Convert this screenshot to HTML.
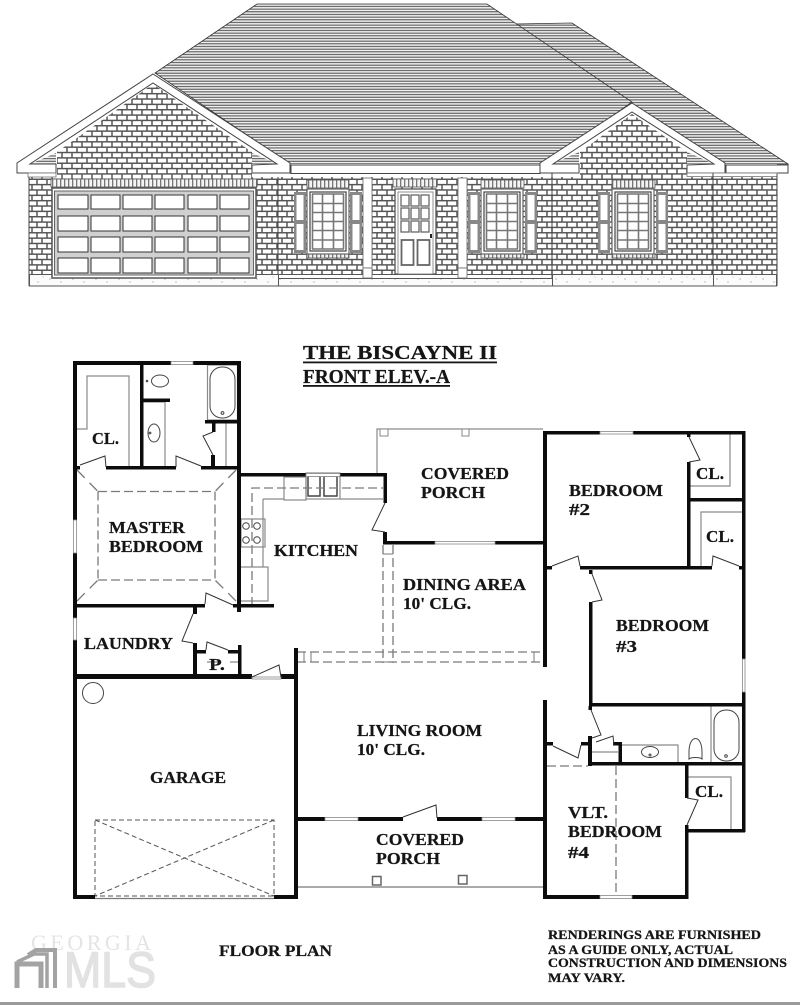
<!DOCTYPE html>
<html><head><meta charset="utf-8"><title>The Biscayne II</title>
<style>html,body{margin:0;padding:0;background:#fff;width:800px;height:1005px;overflow:hidden}svg{display:block}
text{font-family:"Liberation Serif",serif;font-weight:bold;fill:#151515;stroke:#151515;stroke-width:.25}</style></head>
<body>
<svg width="800" height="1005" viewBox="0 0 800 1005" xmlns="http://www.w3.org/2000/svg">
<defs>
<pattern id="roof" width="8" height="2.67" patternUnits="userSpaceOnUse" y="0"><rect width="8" height="2.67" fill="#f0f0f0"/><rect width="8" height="1" y="0.6" fill="#4a4a4a"/></pattern>
<pattern id="brick" width="10" height="10.7" patternUnits="userSpaceOnUse" x="0" y="2"><rect width="10" height="10.7" fill="#fff"/><path d="M0 .7H10M0 6.05H10M2 .7V6.05M7 6.05V11.4" stroke="#555" stroke-width="1.5" fill="none"/></pattern>
<pattern id="soldier" width="4" height="8" patternUnits="userSpaceOnUse"><rect width="4" height="8" fill="#f4f4f4"/><rect width="1.3" height="8" fill="#777"/></pattern>
<pattern id="conc" width="23" height="11" patternUnits="userSpaceOnUse"><rect width="23" height="11" fill="#fbfbfb"/><circle cx="4" cy="4" r=".6" fill="#888"/><circle cx="15" cy="7" r=".6" fill="#999"/><circle cx="20" cy="2" r=".5" fill="#aaa"/></pattern>
<g id="sash"><rect x="0" y="0" width="42" height="65" fill="#fff" stroke="#666" stroke-width="1.2"/><rect x="3" y="3" width="36" height="59" fill="#fff" stroke="#444" stroke-width="1.2"/>
<path d="M5.5 5V60M36.5 5V60M5 5H37M5 60H37M15.5 5V60M26.5 5V60M5 14.500H37M5 23.500H37M5 32.500H37M5 41.500H37M5 51H37" stroke="#777" stroke-width="1.6" fill="none"/></g>
<g id="shut"><rect width="12" height="61" fill="#888"/><rect x="2.500" y="3" width="7" height="25" fill="#fff"/><rect x="2.500" y="32" width="7" height="26" fill="#fff"/></g>
</defs>

<!-- ELEVATION -->
<polygon points="515,24 572,23 788,164 640,164" fill="url(#roof)" stroke="#333" stroke-width=".8"/>
<polygon points="257,4 487,4 632,102 545,164 290,164 155,73" fill="url(#roof)" stroke="#333" stroke-width=".8"/>
<polygon points="29,164 120,164 153,84 190,164 540,164 632,112 715,164 777,164 777,286 29,286" fill="#fff"/>
<rect x="29" y="177" width="748" height="98" fill="url(#brick)"/>
<polygon points="153,84 57,152 57,178 252,178 252,152" fill="url(#brick)"/>
<polygon points="632,114 580,152 580,178 687,178 687,152" fill="url(#brick)"/>
<polygon points="56,153 30,164 56,164" fill="url(#roof)"/><polygon points="252,153 278,164 252,164" fill="url(#roof)"/>
<polygon points="579,152 552,164 579,164" fill="url(#roof)"/><polygon points="687,152 714,164 687,164" fill="url(#roof)"/>
<!-- bands -->
<polygon points="153,74 290,163 290,173 252,173 252,165 277,164 153,83 30,164 56,164 56,173 17,173 17,163" fill="#fff" stroke="#444" stroke-width="1"/>
<rect x="291" y="165" width="249" height="8.500" fill="#fff" stroke="#444" stroke-width="1"/>
<polygon points="632,103 725,163 725,173 687,173 687,165 714,164 632,112 553,164 579,164 579,173 540,173 540,163" fill="#fff" stroke="#444" stroke-width="1"/>
<rect x="726" y="165" width="62" height="8" fill="#fff" stroke="#444" stroke-width="1"/>
<rect x="28" y="173" width="28" height="4" fill="#fff" stroke="#777" stroke-width=".8"/>
<rect x="687" y="173" width="90" height="3.500" fill="#fff" stroke="#777" stroke-width=".8"/>
<path d="M29 177V286M278 177V286M552 173V286M713 173V286M777 174V286" stroke="#444" stroke-width="1" fill="none"/>
<!-- foundation -->
<rect x="29.500" y="274.500" width="249" height="11.500" fill="url(#conc)" stroke="#555"/>
<rect x="278.500" y="278.500" width="274" height="7.500" fill="url(#conc)" stroke="#555"/>
<rect x="552.500" y="274.500" width="161" height="11.500" fill="url(#conc)" stroke="#555"/>
<rect x="713.500" y="274.500" width="63" height="11.500" fill="url(#conc)" stroke="#555"/>
<path d="M278 274.500H552" stroke="#555"/>
<!-- garage door -->
<rect x="51" y="179" width="206" height="8" fill="url(#soldier)" stroke="#555" stroke-width=".8"/>
<rect x="52" y="188" width="204" height="90" fill="#fff" stroke="#555" stroke-width="1.500"/>
<rect x="54.500" y="191" width="199" height="84" fill="#d0d0d0" stroke="#666"/>
<g fill="#fff" stroke="#333" stroke-width="1">
<rect x="58" y="195" width="30" height="14"/><rect x="91" y="195" width="29" height="14"/><rect x="123" y="195" width="29" height="14"/><rect x="155" y="195" width="29" height="14"/><rect x="188" y="195" width="29" height="14"/><rect x="220" y="195" width="29" height="14"/>
<rect x="58" y="216" width="30" height="15"/><rect x="91" y="216" width="29" height="15"/><rect x="123" y="216" width="29" height="15"/><rect x="155" y="216" width="29" height="15"/><rect x="188" y="216" width="29" height="15"/><rect x="220" y="216" width="29" height="15"/>
<rect x="58" y="237" width="30" height="15"/><rect x="91" y="237" width="29" height="15"/><rect x="123" y="237" width="29" height="15"/><rect x="155" y="237" width="29" height="15"/><rect x="188" y="237" width="29" height="15"/><rect x="220" y="237" width="29" height="15"/>
<rect x="58" y="258" width="30" height="15"/><rect x="91" y="258" width="29" height="15"/><rect x="123" y="258" width="29" height="15"/><rect x="155" y="258" width="29" height="15"/><rect x="188" y="258" width="29" height="15"/><rect x="220" y="258" width="29" height="15"/>
</g>
<!-- columns -->
<rect x="363" y="178" width="9" height="90" fill="#fff" stroke="#666" stroke-width=".8"/><rect x="363" y="268" width="9" height="10" fill="#fff" stroke="#666" stroke-width=".8"/>
<rect x="458" y="178" width="9" height="90" fill="#fff" stroke="#666" stroke-width=".8"/><rect x="458" y="268" width="9" height="10" fill="#fff" stroke="#666" stroke-width=".8"/>
<!-- windows -->
<rect x="307" y="180" width="42" height="8" fill="url(#soldier)" stroke="#555" stroke-width=".8"/>
<rect x="307" y="254" width="42" height="4" fill="url(#soldier)" stroke="#555" stroke-width=".8"/>
<use href="#shut" x="294" y="192"/><use href="#sash" x="307" y="189"/><use href="#shut" x="350" y="192"/>
<rect x="481" y="180" width="43" height="8" fill="url(#soldier)" stroke="#555" stroke-width=".8"/>
<rect x="481" y="254" width="43" height="4" fill="url(#soldier)" stroke="#555" stroke-width=".8"/>
<use href="#shut" x="468" y="192"/><use href="#sash" x="481" y="189"/><use href="#shut" x="525" y="192"/>
<rect x="612" y="180" width="43" height="8" fill="url(#soldier)" stroke="#555" stroke-width=".8"/>
<rect x="612" y="254" width="43" height="4" fill="url(#soldier)" stroke="#555" stroke-width=".8"/>
<use href="#shut" x="598" y="192"/><use href="#sash" x="612" y="189"/><use href="#shut" x="656" y="192"/>
<!-- door -->
<rect x="393" y="179" width="44" height="8" fill="url(#soldier)" stroke="#555" stroke-width=".8"/>
<rect x="395" y="189" width="41" height="85" fill="#fff" stroke="#555" stroke-width="1.300"/>
<rect x="398" y="192" width="35" height="82" fill="#fff" stroke="#777" stroke-width=".8"/>
<g fill="#fff" stroke="#666" stroke-width="1.300">
<rect x="401" y="195" width="8" height="11"/><rect x="411" y="195" width="8" height="11"/><rect x="421" y="195" width="8" height="11"/>
<rect x="401" y="208" width="8" height="11"/><rect x="411" y="208" width="8" height="11"/><rect x="421" y="208" width="8" height="11"/>
<rect x="401" y="221" width="8" height="11"/><rect x="411" y="221" width="8" height="11"/><rect x="421" y="221" width="8" height="11"/>
<rect x="401.500" y="240" width="12" height="25" stroke-width="1.800"/><rect x="417.500" y="240" width="12" height="25" stroke-width="1.800"/>
</g>
<rect x="430" y="234" width="2" height="4" fill="#222"/>

<!-- TITLE -->
<text x="303" y="359" font-size="19.500" textLength="194" lengthAdjust="spacingAndGlyphs">THE BISCAYNE II</text>
<rect x="303" y="361.500" width="194" height="1.800" fill="#151515"/>
<text x="303" y="383" font-size="19.500" textLength="147" lengthAdjust="spacingAndGlyphs">FRONT ELEV.-A</text>
<rect x="303" y="385" width="147" height="1.800" fill="#151515"/>

<!-- PLAN thin lines -->
<g fill="none" stroke="#8a8a8a" stroke-width="1.200">
<path d="M77 429H87V376H129V466M143 402H165"/>
<path d="M165 402V466"/>
<rect x="207.500" y="365" width="30" height="55"/>
<path d="M226 423V466"/>
<rect x="284" y="477" width="22" height="23"/><rect x="306" y="473" width="34" height="26"/>
<path d="M340 499H383M263 499H284M263 499V567M241 567H268V601H241"/>
<rect x="241" y="519" width="24" height="28"/>
<path d="M377 473V429H543"/>
<path d="M730 434V486H690"/>
<path d="M745 512H701V566"/>
<path d="M688 777H731V830"/>
<path d="M622 745H678V762"/>
<path d="M711 706V762"/>
<path d="M592 752H618"/>
<path d="M207 662H218M230 662H238"/>
</g>
<!-- fixtures -->
<g fill="none" stroke="#444" stroke-width="1">
<rect x="210" y="367" width="25" height="51" rx="12" ry="12" fill="#fff"/><circle cx="222.500" cy="413" r="1.400"/>
<ellipse cx="160" cy="381" rx="8.500" ry="6"/><circle cx="147" cy="381" r=".8"/>
<ellipse cx="154" cy="433" rx="6" ry="9"/><circle cx="150" cy="433" r=".9"/>
<rect x="308" y="476" width="12" height="20" stroke-width="1.500"/><rect x="324" y="476" width="13" height="20" stroke-width="1.500"/>
<circle cx="246" cy="526" r="3.300"/><circle cx="257" cy="526" r="3.300"/><circle cx="246" cy="540" r="3.300"/><circle cx="257" cy="540" r="3.300"/>
<circle cx="93" cy="693" r="10.500"/>
<rect x="714" y="710" width="25" height="51" rx="12" ry="12"/><circle cx="726" cy="756" r="1.300"/>
<ellipse cx="650" cy="752" rx="8.500" ry="5.500"/><circle cx="650" cy="755" r="1"/>
<path d="M689 752C689 734 702 734 702 752L702 759C700 757 691 757 689 759Z"/>
</g>
<!-- dashed -->
<g fill="none" stroke="#7a7a7a" stroke-width="1.300" stroke-dasharray="9 4">
<path d="M98 491.500H215M98 491.500V580M215 491.500V580M98 580H215"/>
<path d="M77 470L98 491.500M236 470L215 491.500M77 601L98 580M236 601L215 580" stroke-dasharray="11 7"/>
<path d="M252 606V488H383"/>
<path d="M383 545V663M393 545V663M297 652H545M297 662H545"/>
<path d="M547 766H588M616 766V895"/>
</g>
<path d="M311 652V662M304 652V662M379 662H397M534 652V662M383 545V554H393" stroke="#7a7a7a" fill="none"/>
<g fill="none" stroke="#555" stroke-width="1" stroke-dasharray="5 3">
<rect x="95" y="820" width="179" height="76"/><path d="M95 820L274 896M274 820L95 896"/>
</g>
<!-- porch outlines -->
<path d="M297 887H543" stroke="#777" stroke-width="1.200"/>
<path d="M95 898.500H274" stroke="#777" stroke-width="1.200"/>
<g fill="#fff" stroke="#666" stroke-width="1.500"><rect x="372.500" y="876.500" width="8.500" height="8.500"/><rect x="458.500" y="875.500" width="8.500" height="8.500"/></g>
<g fill="#fff" stroke="#888" stroke-width="1"><rect x="380" y="429" width="8" height="7"/><rect x="462" y="429" width="7" height="7"/></g>

<!-- WALLS -->
<g fill="#0c0c0c">
<rect x="73" y="361" width="98" height="4"/><rect x="193" y="361" width="48" height="4"/>
<rect x="73" y="361" width="4" height="159"/><rect x="73" y="553" width="4" height="65"/><rect x="73" y="640" width="4" height="259"/>
<rect x="237" y="361" width="4" height="251"/>
<rect x="140" y="361" width="3.500" height="108"/><rect x="143" y="398.500" width="27" height="3.500"/>
<rect x="73" y="466" width="7" height="3.500"/><rect x="106" y="466" width="70" height="3.500"/><rect x="201" y="466" width="40" height="3.500"/>
<rect x="205" y="420" width="35" height="3.500"/><rect x="212" y="423" width="3.500" height="9"/><rect x="211" y="455" width="4" height="12"/>
<rect x="240" y="473" width="66" height="3.500"/><rect x="340" y="473" width="47" height="3.500"/>
<rect x="383.500" y="473" width="3.500" height="30"/><rect x="383" y="532" width="4" height="12"/>
<rect x="383" y="541" width="52" height="3.500"/><rect x="495" y="541" width="50" height="3.500"/>
<rect x="73" y="604" width="132" height="3.500"/><rect x="233" y="604" width="41" height="3.500"/>
<rect x="193" y="607" width="4" height="7"/><rect x="193" y="643" width="4" height="33"/>
<rect x="197" y="650" width="9" height="3.500"/><rect x="228" y="650" width="10" height="3.500"/><rect x="238" y="645" width="3.500" height="31"/>
<rect x="73" y="674" width="179" height="5"/><rect x="281" y="674" width="17" height="5"/>
<rect x="294" y="648" width="4" height="250"/>
<rect x="73" y="895" width="22" height="4"/><rect x="274" y="895" width="24" height="4"/>
<rect x="297" y="817" width="28" height="4"/><rect x="358" y="817" width="45" height="4"/><rect x="437" y="817" width="45" height="4"/><rect x="515" y="817" width="30" height="4"/>
<rect x="543" y="431" width="4" height="236"/><rect x="543" y="700" width="4" height="199"/>
<rect x="543" y="431" width="57" height="3.500"/><rect x="633" y="431" width="112" height="3.500"/>
<rect x="742" y="431" width="3.500" height="228"/><rect x="742" y="692" width="3.500" height="140"/>
<rect x="687" y="432" width="3.500" height="5"/><rect x="687" y="462" width="3.500" height="105"/>
<rect x="690" y="498" width="55" height="3.500"/>
<rect x="543" y="566" width="9" height="3.500"/><rect x="580" y="566" width="132" height="3.500"/><rect x="739" y="566" width="6" height="3.500"/>
<rect x="589" y="570" width="3.500" height="4"/><rect x="589" y="602" width="3.500" height="104"/>
<rect x="589" y="703" width="156" height="3.500"/>
<rect x="588.500" y="706" width="3.500" height="4"/><rect x="588" y="736" width="4" height="30"/>
<rect x="543" y="742" width="10" height="3.500"/><rect x="581" y="742" width="9" height="3.500"/><rect x="613" y="742" width="9" height="3.500"/><rect x="618.500" y="742" width="3.500" height="23"/>
<rect x="588" y="762" width="157" height="3.500"/>
<rect x="685" y="765" width="3.500" height="33"/><rect x="685" y="825" width="3.500" height="74"/>
<rect x="685" y="829" width="60" height="3.500"/>
<rect x="543" y="895" width="57" height="4"/><rect x="632" y="895" width="56" height="4"/>
</g>
<!-- windows in walls -->
<g fill="#fff" stroke="#888" stroke-width=".8">
<rect x="171" y="361.500" width="22" height="3"/><rect x="73.500" y="520" width="3" height="33"/><rect x="73.500" y="618" width="3" height="22"/>
<rect x="306" y="473.500" width="34" height="3"/><rect x="435" y="541.500" width="60" height="2.500"/><rect x="600" y="431.500" width="33" height="2.500"/>
<rect x="742.500" y="659" width="2.500" height="33"/><rect x="325" y="817.500" width="33" height="3"/><rect x="482" y="817.500" width="33" height="3"/><rect x="600" y="895.500" width="32" height="3"/>
<rect x="252" y="677" width="29" height="2"/>
</g>
<!-- doors -->
<g fill="none" stroke="#333" stroke-width="1">
<path d="M80 465L105 456L106 467"/><path d="M176 467L176 456L201 466"/><path d="M213 432L203 436L213 455"/>
<path d="M205 604L206 593L233 605"/><path d="M193 614L182 641L193 643"/><path d="M206 650L207 642L228 650"/>
<path d="M252 677L279 665L281 677"/><path d="M385 503L372 530L385 532"/>
<path d="M403 817L436 805L437 818"/><path d="M552 566L578 556L580 566"/>
<path d="M689 437L700 460L689 462"/><path d="M712 566L713 556L739 566"/><path d="M592 574L602 600L592 602"/>
<path d="M591 710L601 735L592 738"/><path d="M553 746L578 758L581 745"/><path d="M596 742L613 736L614 745"/>
<path d="M687 798L698 800L687 825"/>
</g>

<!-- LABELS -->
<g font-size="17">
<text x="92" y="444" textLength="27" lengthAdjust="spacingAndGlyphs">CL.</text>
<text x="109" y="533" textLength="76" lengthAdjust="spacingAndGlyphs">MASTER</text>
<text x="109" y="552" textLength="94" lengthAdjust="spacingAndGlyphs">BEDROOM</text>
<text x="274" y="556" textLength="84" lengthAdjust="spacingAndGlyphs">KITCHEN</text>
<text x="84" y="649" textLength="89" lengthAdjust="spacingAndGlyphs">LAUNDRY</text>
<text x="209" y="670" textLength="16" lengthAdjust="spacingAndGlyphs">P.</text>
<text x="421" y="479" textLength="88" lengthAdjust="spacingAndGlyphs">COVERED</text>
<text x="421" y="498" textLength="64" lengthAdjust="spacingAndGlyphs">PORCH</text>
<text x="569" y="496" textLength="94" lengthAdjust="spacingAndGlyphs">BEDROOM</text>
<text x="569" y="515" textLength="21" lengthAdjust="spacingAndGlyphs">#2</text>
<text x="696" y="479" textLength="28" lengthAdjust="spacingAndGlyphs">CL.</text>
<text x="706" y="542" textLength="28" lengthAdjust="spacingAndGlyphs">CL.</text>
<text x="403" y="590" textLength="123" lengthAdjust="spacingAndGlyphs">DINING AREA</text>
<text x="403" y="609" textLength="68" lengthAdjust="spacingAndGlyphs">10' CLG.</text>
<text x="616" y="631" textLength="93" lengthAdjust="spacingAndGlyphs">BEDROOM</text>
<text x="616" y="652" textLength="21" lengthAdjust="spacingAndGlyphs">#3</text>
<text x="357" y="736" textLength="125" lengthAdjust="spacingAndGlyphs">LIVING ROOM</text>
<text x="357" y="755" textLength="68" lengthAdjust="spacingAndGlyphs">10' CLG.</text>
<text x="150" y="783" textLength="76" lengthAdjust="spacingAndGlyphs">GARAGE</text>
<text x="376" y="845" textLength="88" lengthAdjust="spacingAndGlyphs">COVERED</text>
<text x="376" y="864" textLength="64" lengthAdjust="spacingAndGlyphs">PORCH</text>
<text x="568" y="818" textLength="40" lengthAdjust="spacingAndGlyphs">VLT.</text>
<text x="568" y="837" textLength="94" lengthAdjust="spacingAndGlyphs">BEDROOM</text>
<text x="568" y="858" textLength="21" lengthAdjust="spacingAndGlyphs">#4</text>
<text x="695" y="797" textLength="28" lengthAdjust="spacingAndGlyphs">CL.</text>
<text x="219" y="956" font-size="16" textLength="113" lengthAdjust="spacingAndGlyphs">FLOOR PLAN</text>
</g>
<g font-size="12.500">
<text x="548" y="939" textLength="213" lengthAdjust="spacingAndGlyphs">RENDERINGS ARE FURNISHED</text>
<text x="548" y="954" textLength="185" lengthAdjust="spacingAndGlyphs">AS A GUIDE ONLY, ACTUAL</text>
<text x="548" y="967" textLength="239" lengthAdjust="spacingAndGlyphs">CONSTRUCTION AND DIMENSIONS</text>
<text x="548" y="982" textLength="77" lengthAdjust="spacingAndGlyphs">MAY VARY.</text>
</g>

<!-- watermark -->
<text x="31" y="950" font-size="22" textLength="120" lengthAdjust="spacing" style="font-weight:normal;fill:#e4e4e4;stroke:none">GEORGIA</text>
<text x="64" y="987" font-size="50" textLength="92" lengthAdjust="spacingAndGlyphs" style="font-family:'Liberation Sans',sans-serif;font-weight:normal;fill:#e2e2e2;stroke:#e2e2e2;stroke-width:1.5">MLS</text>
<g fill="none" stroke="#a3a3a3" stroke-width="3.500">
<path d="M17 988V964H41V988" stroke-width="5"/><path d="M17 962L34 954H47V988"/><path d="M28 955L36 950H55V988" stroke-width="4"/>
</g>
<rect x="0" y="1002" width="800" height="3" fill="#9a9a9a"/>
</svg>
</body></html>
